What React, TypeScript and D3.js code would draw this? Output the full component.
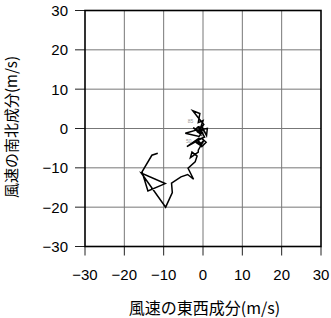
import React from "react";
import * as d3 from "d3";

const W = 331;
const H = 318;

// Hodograph: east-west (u) and north-south (v) wind components, m/s
const uWind: number[] = [
  -0.5, -1.5, 0.2, -1.0, -2.6, -0.8, -1.2, 0.0, -0.8, 1.1,
  0.9, -0.5, 0.3, -1.4, -2.0, -4.5, -1.0, -0.2, -2.5, -0.6,
  -1.1, 0.4, -1.8, -0.9, -4.1, -0.3, 0.8, -0.3, -1.6, -0.4,
  -1.8, -0.8, 0.2, -1.2, -1.2, -3.2, -2.8, -1.5, -2.0, -3.8,
  -2.4, -3.9, -5.6, -8.0, -7.8, -9.5, -15.7, -9.6, -14.0, -15.5,
  -13.0, -11.5,
];
const vWind: number[] = [
  0.5, -1.0, 1.0, 2.5, 4.5, 3.8, 1.5, 2.0, -0.3, 0.0,
  -1.8, 0.8, -0.6, 0.3, -0.5, -1.2, -2.0, -1.0, 0.2, -1.5,
  0.6, -2.2, -3.0, -2.4, -4.6, -2.5, -3.5, -4.6, -2.8, -3.9,
  -3.5, -4.2, -3.0, -5.5, -6.0, -7.4, -6.0, -7.0, -8.5, -10.1,
  -12.9, -11.7, -12.3, -13.9, -16.3, -20.0, -11.3, -14.0, -15.9, -11.0,
  -6.8, -6.3,
];

const xTicks: number[] = [-30, -20, -10, 0, 10, 20, 30];
const yTicks: number[] = [-30, -20, -10, 0, 10, 20, 30];

const levelLabels: string[] = ["85", "50"];
const levelU: number[] = [-3.9, -4.3];
const levelV: number[] = [1.4, -3.6];

const xTitle = "風速の東西成分(m/s)";
const yTitle = "風速の南北成分(m/s)";

export default function App() {
  const left = 85;
  const right = 321;
  const top = 10.5;
  const bottom = 246.5;

  const x = d3.scaleLinear().domain([-30, 30]).range([left, right]);
  const y = d3.scaleLinear().domain([-30, 30]).range([bottom, top]);

  const pts: [number, number][] = uWind.map((u, i) => [u, vWind[i]]);
  const line = d3
    .line<[number, number]>()
    .x((d) => x(d[0]))
    .y((d) => y(d[1]));

  const fmt = (t: number) => (t < 0 ? "\u2212" + Math.abs(t) : String(t));
  const tickFont = "'Liberation Sans', Arial, Helvetica, sans-serif";
  const cjkFont = "'Noto Sans CJK JP', 'Noto Sans', sans-serif";

  return (
    <svg
      width={W}
      height={H}
      style={{ position: "fixed", left: 0, top: 0, background: "#fff" }}
    >
      <rect x={0} y={0} width={W} height={H} fill="#fff" />
      {/* grid */}
      {xTicks.slice(1, -1).map((t) => (
        <line key={"gx" + t} x1={x(t)} x2={x(t)} y1={top} y2={bottom} stroke="#777" strokeWidth={1} />
      ))}
      {yTicks.slice(1, -1).map((t) => (
        <line key={"gy" + t} x1={left} x2={right} y1={y(t)} y2={y(t)} stroke="#777" strokeWidth={1} />
      ))}
      {/* ticks */}
      {xTicks.map((t) => (
        <line key={"tx" + t} x1={x(t)} x2={x(t)} y1={bottom} y2={bottom + 9} stroke="#222" strokeWidth={1} />
      ))}
      {yTicks.map((t) => (
        <line key={"ty" + t} x1={left - 10} x2={left} y1={y(t)} y2={y(t)} stroke="#222" strokeWidth={1} />
      ))}
      {/* frame */}
      <rect x={left} y={top} width={right - left} height={bottom - top} fill="none" stroke="#000" strokeWidth={1.6} />
      {/* hodograph */}
      <path d={line(pts) || ""} fill="none" stroke="#000" strokeWidth={1.5} strokeLinejoin="miter" />
      {levelLabels.map((s, i) => (
        <text key={s} x={x(levelU[i])} y={y(levelV[i])} fontSize={5} fill="#999" fontFamily={tickFont}>
          {s}
        </text>
      ))}
      {/* tick labels */}
      {xTicks.map((t) => (
        <text key={"lx" + t} x={x(t)} y={280} textAnchor="middle" fontSize={15} fontFamily={tickFont} fill="#000">
          {fmt(t)}
        </text>
      ))}
      {yTicks.map((t) => (
        <text key={"ly" + t} x={68} y={y(t)} dy="0.36em" textAnchor="end" fontSize={15} fontFamily={tickFont} fill="#000">
          {fmt(t)}
        </text>
      ))}
      {/* titles */}
      <text x={204.5} y={314} textAnchor="middle" fontSize={16} fontFamily={cjkFont} fill="#000">
        {xTitle}
      </text>
      <text transform={`translate(16.5,127) rotate(-90)`} textAnchor="middle" fontSize={15} fontFamily={cjkFont} fill="#000">
        {yTitle}
      </text>
    </svg>
  );
}
